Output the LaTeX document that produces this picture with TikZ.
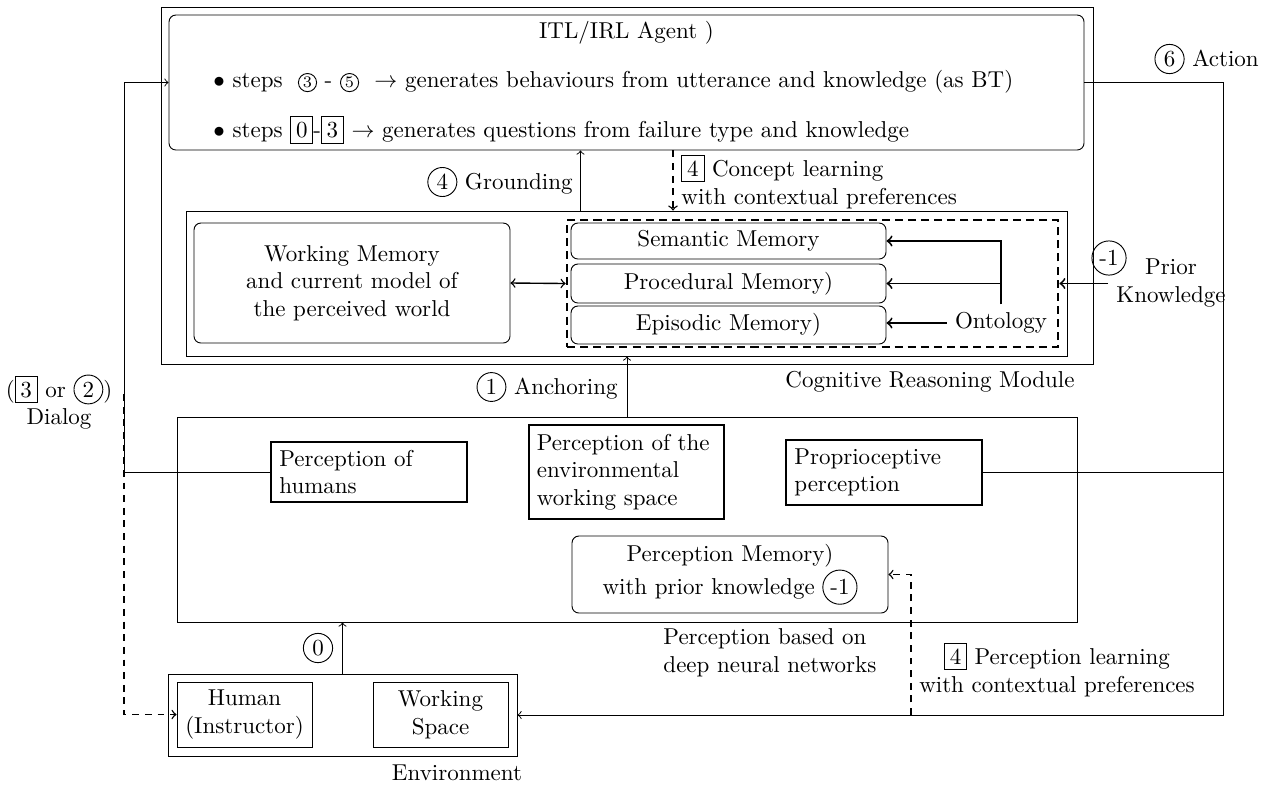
\documentclass[tikz,border=0pt]{standalone}
\usetikzlibrary{calc}
\tikzset{inl/.style={solid, thin, sharp corners, minimum width=0pt, minimum height=0pt, text width=, align=none}}
\newcommand{\circnum}[1]{\tikz[baseline=(cn.base)]\node[draw,inl,circle,inner sep=1.5pt](cn){#1};}
\newcommand{\smallcirc}[1]{\tikz[baseline=(sc.base)]\node[draw,inl,circle,inner sep=0.6pt,font=\scriptsize](sc){#1};}
\newcommand{\boxnum}[1]{\tikz[baseline=(bn.base)]\node[draw,inl,inner sep=2.3pt](bn){#1};}
\begin{document}
\begin{tikzpicture}[x=0.435pt,y=-0.435pt,
  sz/.style 2 args={minimum width=#1*0.435pt, minimum height=#2*0.435pt, inner sep=0pt},
  frame/.style={draw, thin},
  rbox/.style={draw, thin, rounded corners=3pt},
  pbox/.style={draw, thick, text width=78pt, align=left, inner xsep=3.5pt, inner ysep=2pt},
  lbl/.style={inner sep=0pt},
  circ/.style={draw, circle, inner sep=1.5pt},
  dbx/.style={draw, very thick, dash pattern=on 3.5pt off 2.2pt},
  conn/.style={->, thin},
  dconn/.style={->, semithick, dash pattern=on 3pt off 2.5pt},
  mconn/.style={->, thick}
]
\useasboundingbox (0,0) rectangle (1279,785);

% Cognitive reasoning module
\node[frame, sz={932}{357}] (cog) at (627,185.5) {};
\node[rbox, sz={915}{135}] (agent) at (626.5,82.5) {};
\node[lbl] (title) at (626.5,33) {ITL/IRL Agent )};
\node[lbl, anchor=west] (b1) at (213,82) {$\bullet$ steps\ \ \smallcirc{3} - \smallcirc{5}\ \ $\rightarrow$ generates behaviours from utterance and knowledge (as BT)};
\node[lbl, anchor=west] (b2) at (213,130) {$\bullet$ steps \boxnum{0}-\boxnum{3} $\rightarrow$ generates questions from failure type and knowledge};

\node[frame, sz={881}{145}] (inner) at (626.5,283.5) {};
\node[rbox, sz={316}{120}, align=center] (wm) at (352,283) {Working Memory\\and current model of\\the perceived world};
\node[dbx, sz={491}{127}] (dbox) at (812.5,283.5) {};
\node[rbox, sz={315}{36}] (sem) at (728.5,241) {Semantic Memory};
\node[rbox, sz={315}{39}] (proc) at (728.5,283.5) {Procedural Memory)};
\node[rbox, sz={315}{38}] (epi) at (728.5,325) {Episodic Memory)};
\node (onto) at (1001,323) {Ontology};

\draw[mconn] (onto.north) |- (sem.east);
\draw[mconn] (onto.north |- proc.east) -- (proc.east);
\draw[mconn] (onto.west) -- (onto.west -| epi.east);
\draw[<->, semithick] (wm.east) -- (dbox.west);

\node[lbl] (crm) at (930,382) {Cognitive Reasoning Module};

% Prior knowledge
\node[circ] (pkc) at (1109,258) {-1};
\node[lbl, align=center] (pk) at (1171,283) {Prior\\Knowledge};
\coordinate (pks) at (1108,283.5);
\draw[mconn] (pks) -- (dbox.east);

% Grounding / concept learning
\draw[conn] ($(inner.north)+(-46,0)$) -- ($(agent.south)+(-46,0)$);
\draw[dconn] ($(agent.south)+(46.5,0)$) -- ($(inner.north)+(46.5,0)$);
\node[lbl, anchor=east] (grl) at (573,182) {\circnum{4} Grounding};
\node[lbl, anchor=west, align=left] (cll) at (681,182) {\boxnum{4} Concept learning\\with contextual preferences};

% Perception
\node[frame, sz={900}{205}] (perc) at (627,519.5) {};
\node[pbox, minimum height=60*0.435pt] (hum) at (369,472) {Perception of\\humans};
\node[pbox, minimum height=94*0.435pt] (envp) at (626.5,472) {Perception of the\\environmental\\working space};
\node[pbox, minimum height=65*0.435pt] (prop) at (884,472.5) {Proprioceptive\\perception};
\node[rbox, sz={316}{77}, align=center] (pmem) at (730,574.5) {Perception Memory)\\with prior knowledge \circnum{-1}};
\node[lbl, anchor=west, align=left] (pbl) at (663,653) {Perception based on\\deep neural networks};

\draw[conn] (perc.north) -- (perc.north |- inner.south);
\node[lbl, anchor=east] (anl) at (618,387) {\circnum{1} Anchoring};

% Environment
\node[frame, sz={349}{82}] (env) at (342.5,715) {};
\node[frame, sz={135}{65}, align=center] (human) at (244.5,714.5) {Human\\(Instructor)};
\node[frame, sz={135}{65}, align=center] (ws) at (440.5,714.5) {Working\\Space};
\node[lbl] (envl) at (457,773) {Environment};
\draw[conn] (env.north) -- (env.north |- perc.south);
\node[circ] (zero) at (318,648) {0};

% Dialog (left)
\coordinate (lcorner) at (124,472);
\draw[conn] (hum.west) -- (lcorner) |- (agent.west);
\coordinate (dstart) at (124,394);
\draw[dconn] (dstart) |- (human.west);
\node[lbl, align=center] (dlg) at (59,402) {(\boxnum{3} or \circnum{2})\\Dialog};

% Action (right)
\coordinate (rtop) at (1223,82.5);
\draw[conn] (agent.east) -- (rtop) |- (env.east);
\draw[thin] (prop.east) -- (prop.east -| rtop);
\node[lbl, anchor=west] (act) at (1154,59) {\circnum{6} Action};

% Perception learning
\coordinate (pl) at (911,715);
\draw[dconn] (pl) |- (pmem.east);
\node[lbl, align=center] (pll) at (1057,670) {\boxnum{4} Perception learning\\with contextual preferences};
\end{tikzpicture}
\end{document}
